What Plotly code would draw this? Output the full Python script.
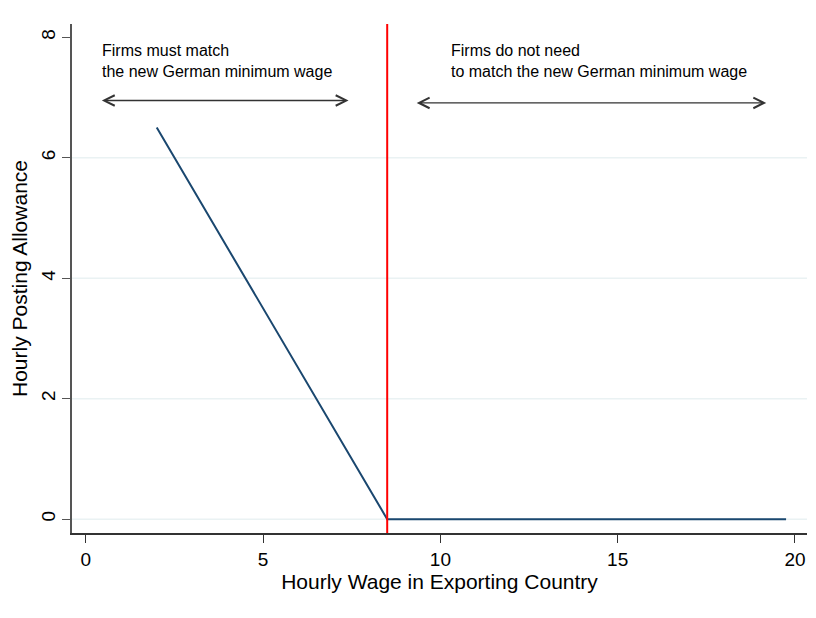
import plotly.graph_objects as go

# ---- data ----
wage = [2.0, 8.5, 19.75]
allowance = [6.5, 0.0, 0.0]
min_wage = 8.5
x_ticks = [0, 5, 10, 15, 20]
y_ticks = [0, 2, 4, 6, 8]
grid_levels = [0, 2, 4, 6]

left_text = "Firms must match<br>the new German minimum wage"
right_text = "Firms do not need<br>to match the new German minimum wage"
left_arrow = (0.41, 7.41, 6.95)
right_arrow = (9.29, 19.19, 6.91)
left_text_x = 0.41
right_text_x = 10.25
text_y = 7.6

FONT = "Liberation Sans, Arial, sans-serif"
NAVY = "#1a476f"

fig = go.Figure()

for g in grid_levels:
    fig.add_shape(type="line", xref="paper", x0=0, x1=1, yref="y", y0=g, y1=g,
                  line=dict(color="#eaf2f3", width=1.5), layer="below")

fig.add_trace(go.Scatter(x=wage, y=allowance, mode="lines",
                         line=dict(color=NAVY, width=2), showlegend=False))

fig.add_shape(type="line", xref="x", x0=min_wage, x1=min_wage, yref="paper", y0=0, y1=1,
              line=dict(color="#ff0000", width=2))

for (x0, x1, y) in [left_arrow, right_arrow]:
    fig.add_annotation(x=x1, y=y, ax=x0, ay=y, xref="x", yref="y", axref="x", ayref="y",
                       text="", showarrow=True, arrowhead=5, arrowside="end+start",
                       arrowsize=1.6, arrowwidth=1.3, arrowcolor="#333333")

for tx, txt in [(left_text_x, left_text), (right_text_x, right_text)]:
    fig.add_annotation(x=tx, y=text_y, xref="x", yref="y", text=txt, showarrow=False,
                       xanchor="left", yanchor="middle", align="left",
                       font=dict(family=FONT, size=16, color="#000000"))

# the page adds an 8px body margin, so the figure is sized to fit inside the window
fig.update_layout(
    width=808, height=610,
    margin=dict(l=60, r=9, t=16, b=85),
    paper_bgcolor="white", plot_bgcolor="white",
    font=dict(family=FONT, color="#000000"),
    xaxis=dict(range=[-0.39, 20.34], tickvals=x_ticks, showgrid=False, zeroline=False,
               showline=True, linecolor="#333333", linewidth=1.5,
               ticks="outside", ticklen=8, tickcolor="#333333", tickwidth=1.3,
               tickfont=dict(size=19, family=FONT),
               title=dict(text="Hourly Wage in Exporting Country",
                          font=dict(size=21, family=FONT), standoff=2)),
    yaxis=dict(range=[-0.23, 8.22], tickvals=y_ticks, showgrid=False, zeroline=False,
               showline=True, linecolor="#555555", linewidth=1.5,
               ticks="outside", ticklen=8, tickcolor="#555555", tickwidth=1.3,
               tickangle=-90, tickfont=dict(size=19, family=FONT),
               title=dict(text="Hourly Posting Allowance",
                          font=dict(size=21, family=FONT), standoff=6)),
)

fig.write_html("out.html")
